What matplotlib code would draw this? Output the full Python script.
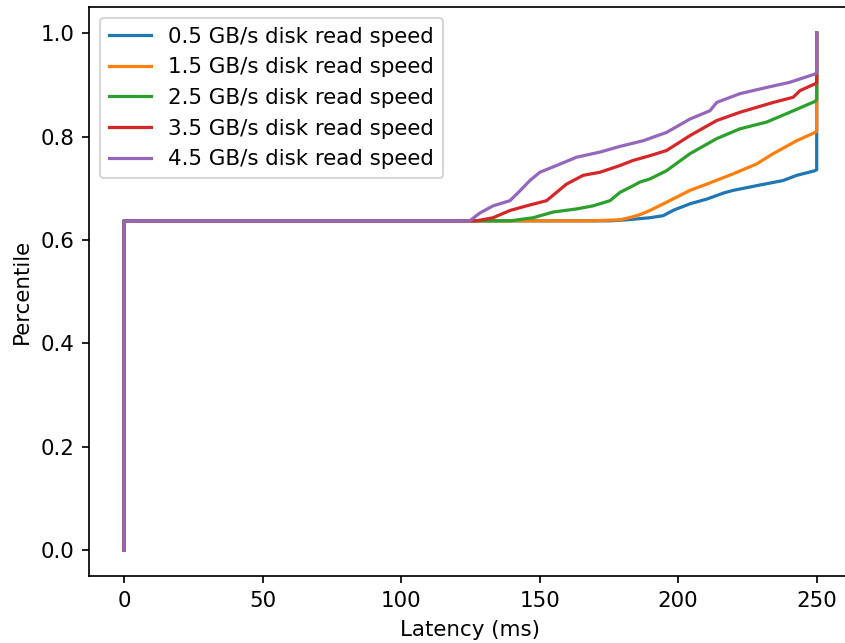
import matplotlib
matplotlib.use("Agg")
import matplotlib.pyplot as plt

# Latency CDF per disk read speed (latency in ms, cumulative percentile)
labels = [
    "0.5 GB/s disk read speed",
    "1.5 GB/s disk read speed",
    "2.5 GB/s disk read speed",
    "3.5 GB/s disk read speed",
    "4.5 GB/s disk read speed",
]

lat_05 = [0, 0, 175.4, 181.4, 189.8, 194.6, 198.5, 204.3, 210.3, 216.5, 219.9, 228.3,
          237.9, 242.8, 249.4, 250, 250]
pct_05 = [0.0, 0.637, 0.637, 0.639, 0.643, 0.647, 0.658, 0.670, 0.679, 0.691, 0.696, 0.705,
          0.715, 0.725, 0.734, 0.736, 1.0]

lat_15 = [0, 0, 169.3, 179.0, 183.8, 186.2, 189.8, 195.8, 204.3, 210.3, 219.9, 228.3,
          234.3, 242.8, 249.4, 250, 250]
pct_15 = [0.0, 0.637, 0.637, 0.639, 0.645, 0.649, 0.657, 0.673, 0.696, 0.708, 0.728, 0.747,
          0.767, 0.792, 0.808, 0.810, 1.0]

lat_25 = [0, 0, 139.3, 147.7, 154.9, 163.3, 169.3, 175.4, 179.0, 183.8, 186.2, 189.8,
          195.8, 204.3, 213.9, 222.3, 231.9, 240.3, 249.4, 250, 250]
pct_25 = [0.0, 0.637, 0.637, 0.643, 0.654, 0.660, 0.666, 0.676, 0.692, 0.705, 0.712, 0.718,
          0.734, 0.767, 0.796, 0.815, 0.828, 0.847, 0.868, 0.872, 1.0]

lat_35 = [0, 0, 127.2, 133.2, 139.3, 145.3, 152.5, 156.1, 159.7, 165.7, 171.8, 179.0,
          183.8, 189.8, 195.8, 204.3, 213.9, 222.3, 234.3, 241.5, 244.0, 249.4, 250, 250]
pct_35 = [0.0, 0.637, 0.637, 0.643, 0.657, 0.666, 0.676, 0.692, 0.708, 0.725, 0.731, 0.744,
          0.754, 0.763, 0.773, 0.802, 0.831, 0.847, 0.866, 0.876, 0.889, 0.902, 0.904, 1.0]

lat_45 = [0, 0, 124.8, 128.4, 133.2, 139.3, 142.9, 146.5, 150.1, 156.1, 163.3, 171.8,
          179.0, 187.4, 195.8, 204.3, 211.5, 213.9, 222.3, 231.9, 240.3, 249.4, 250, 250]
pct_45 = [0.0, 0.637, 0.637, 0.652, 0.666, 0.676, 0.695, 0.715, 0.731, 0.744, 0.760, 0.770,
          0.781, 0.792, 0.808, 0.834, 0.850, 0.866, 0.883, 0.895, 0.905, 0.921, 0.924, 1.0]

latencies = [lat_05, lat_15, lat_25, lat_35, lat_45]
percentiles = [pct_05, pct_15, pct_25, pct_35, pct_45]

dpi = 154
fig = plt.figure(figsize=(845 / dpi, 643 / dpi), dpi=dpi)
ax = fig.add_axes([0.1057, 0.1042, 0.9018, 0.8844])

for lat, pct, lab in zip(latencies, percentiles, labels):
    ax.plot(lat, pct, label=lab)

ax.spines["right"].set_visible(False)
ax.set_xlabel("Latency (ms)")
ax.set_ylabel("Percentile")
ax.legend(loc="upper left")

fig.savefig("out.png", dpi=dpi)
